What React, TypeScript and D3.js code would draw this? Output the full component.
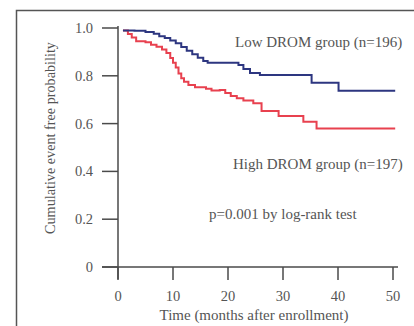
import React, { useEffect, useRef } from "react";
import * as d3 from "d3";

// Kaplan-Meier step points (months, probability)
const lowTimes = [0.9, 3, 5, 6.5, 7.5, 8.5, 9.5, 10.5, 11.5, 12.5, 13.5, 14.5, 15.5, 16.3, 21.9, 22.8, 24, 25.8, 35.2, 40.1, 50.4];
const lowValues = [0.99, 0.988, 0.983, 0.976, 0.966, 0.958, 0.948, 0.936, 0.92, 0.905, 0.89, 0.876, 0.862, 0.855, 0.845, 0.828, 0.812, 0.803, 0.771, 0.737, 0.737];

const highTimes = [0.9, 1.8, 2.5, 3.3, 5, 6, 7, 8, 8.8, 9.5, 10, 10.5, 11, 11.5, 12, 12.8, 14, 16, 17, 18.5, 19.5, 20.5, 21.6, 22.8, 24.6, 26.1, 29.2, 33.7, 36.1, 50.4];
const highValues = [0.99, 0.975, 0.96, 0.945, 0.94, 0.93, 0.922, 0.91, 0.895, 0.875, 0.855, 0.835, 0.81, 0.79, 0.775, 0.762, 0.752, 0.746, 0.738, 0.741, 0.728, 0.716, 0.706, 0.697, 0.685, 0.653, 0.632, 0.608, 0.58, 0.58];

const xTicks = [0, 10, 20, 30, 40, 50];
const yTicks = [0, 0.2, 0.4, 0.6, 0.8, 1.0];
const yTickLabels = ["0", "0.2", "0.4", "0.6", "0.8", "1.0"];

const labels = {
  low: "Low DROM group (n=196)",
  high: "High DROM group (n=197)",
  pval: "p=0.001 by log-rank test",
  xTitle: "Time (months after enrollment)",
  yTitle: "Cumulative event free probability",
};

const W = 414;
const H = 326;

export default function App() {
  const svgRef = useRef<SVGSVGElement>(null);

  useEffect(() => {
    const svg = d3.select(svgRef.current);
    svg.selectAll("*").remove();

    const font = "'Liberation Serif', 'Times New Roman', serif";
    const axisColor = "#4a4a4a";
    const textColor = "#555";

    const x = d3.scaleLinear().domain([0, 50]).range([118, 393]);
    const y = d3.scaleLinear().domain([0, 1]).range([267, 28]);

    svg.append("rect").attr("width", W).attr("height", H).attr("fill", "#fff");

    // outer frame (only top and left visible)
    svg.append("path")
      .attr("d", `M16.5,${H} V10.5 H${W}`)
      .attr("fill", "none")
      .attr("stroke", "#555")
      .attr("stroke-width", 1.5);

    // y axis
    const yAxis = svg.append("g");
    yAxis.append("line")
      .attr("x1", x(0)).attr("x2", x(0))
      .attr("y1", y(1) - 2).attr("y2", y(0) + 12)
      .attr("stroke", axisColor).attr("stroke-width", 1.5);
    yTicks.forEach((t, i) => {
      yAxis.append("line")
        .attr("x1", x(0) - 16).attr("x2", x(0))
        .attr("y1", y(t)).attr("y2", y(t))
        .attr("stroke", axisColor).attr("stroke-width", 1.5);
      yAxis.append("text")
        .attr("x", 93).attr("y", y(t))
        .attr("dy", "0.35em")
        .attr("text-anchor", "end")
        .attr("font-family", font).attr("font-size", 14.5)
        .attr("fill", textColor)
        .text(yTickLabels[i]);
    });

    // x axis
    const xAxis = svg.append("g");
    xAxis.append("line")
      .attr("x1", x(0) - 16).attr("x2", x(50) + 5)
      .attr("y1", y(0)).attr("y2", y(0))
      .attr("stroke", axisColor).attr("stroke-width", 1.5);
    xTicks.forEach((t) => {
      xAxis.append("line")
        .attr("x1", x(t)).attr("x2", x(t))
        .attr("y1", y(0)).attr("y2", y(0) + 13)
        .attr("stroke", axisColor).attr("stroke-width", 1.5);
      xAxis.append("text")
        .attr("x", x(t)).attr("y", 296)
        .attr("dy", "0.35em")
        .attr("text-anchor", "middle")
        .attr("font-family", font).attr("font-size", 14.5)
        .attr("fill", textColor)
        .text(t);
    });

    svg.append("text")
      .attr("x", 254).attr("y", 315)
      .attr("dy", "0.35em")
      .attr("text-anchor", "middle")
      .attr("font-family", font).attr("font-size", 15)
      .attr("fill", textColor)
      .text(labels.xTitle);

    svg.append("text")
      .attr("transform", `translate(50,138) rotate(-90)`)
      .attr("dy", "0.35em")
      .attr("text-anchor", "middle")
      .attr("font-family", font).attr("font-size", 14.2)
      .attr("fill", textColor)
      .text(labels.yTitle);

    // curves
    const line = d3.line<[number, number]>()
      .x((d) => x(d[0]))
      .y((d) => y(d[1]))
      .curve(d3.curveStepAfter);

    const series = [
      { times: highTimes, values: highValues, color: "#e8414f" },
      { times: lowTimes, values: lowValues, color: "#2d3680" },
    ];
    series.forEach((s) => {
      const pts = s.times.map((t, i) => [t, s.values[i]] as [number, number]);
      svg.append("path")
        .attr("d", line(pts))
        .attr("fill", "none")
        .attr("stroke", s.color)
        .attr("stroke-width", 2);
    });

    // annotations
    const notes = [
      { text: labels.low, x: 235, y: 42 },
      { text: labels.high, x: 233, y: 164 },
      { text: labels.pval, x: 209, y: 214 },
    ];
    notes.forEach((n) => {
      svg.append("text")
        .attr("x", n.x).attr("y", n.y)
        .attr("dy", "0.35em")
        .attr("font-family", font).attr("font-size", 15)
        .attr("fill", textColor)
        .text(n.text);
    });
  }, []);

  return (
    <div style={{ position: "fixed", left: 0, top: 0 }}>
      <svg ref={svgRef} width={W} height={H} style={{ display: "block" }}></svg>
    </div>
  );
}
